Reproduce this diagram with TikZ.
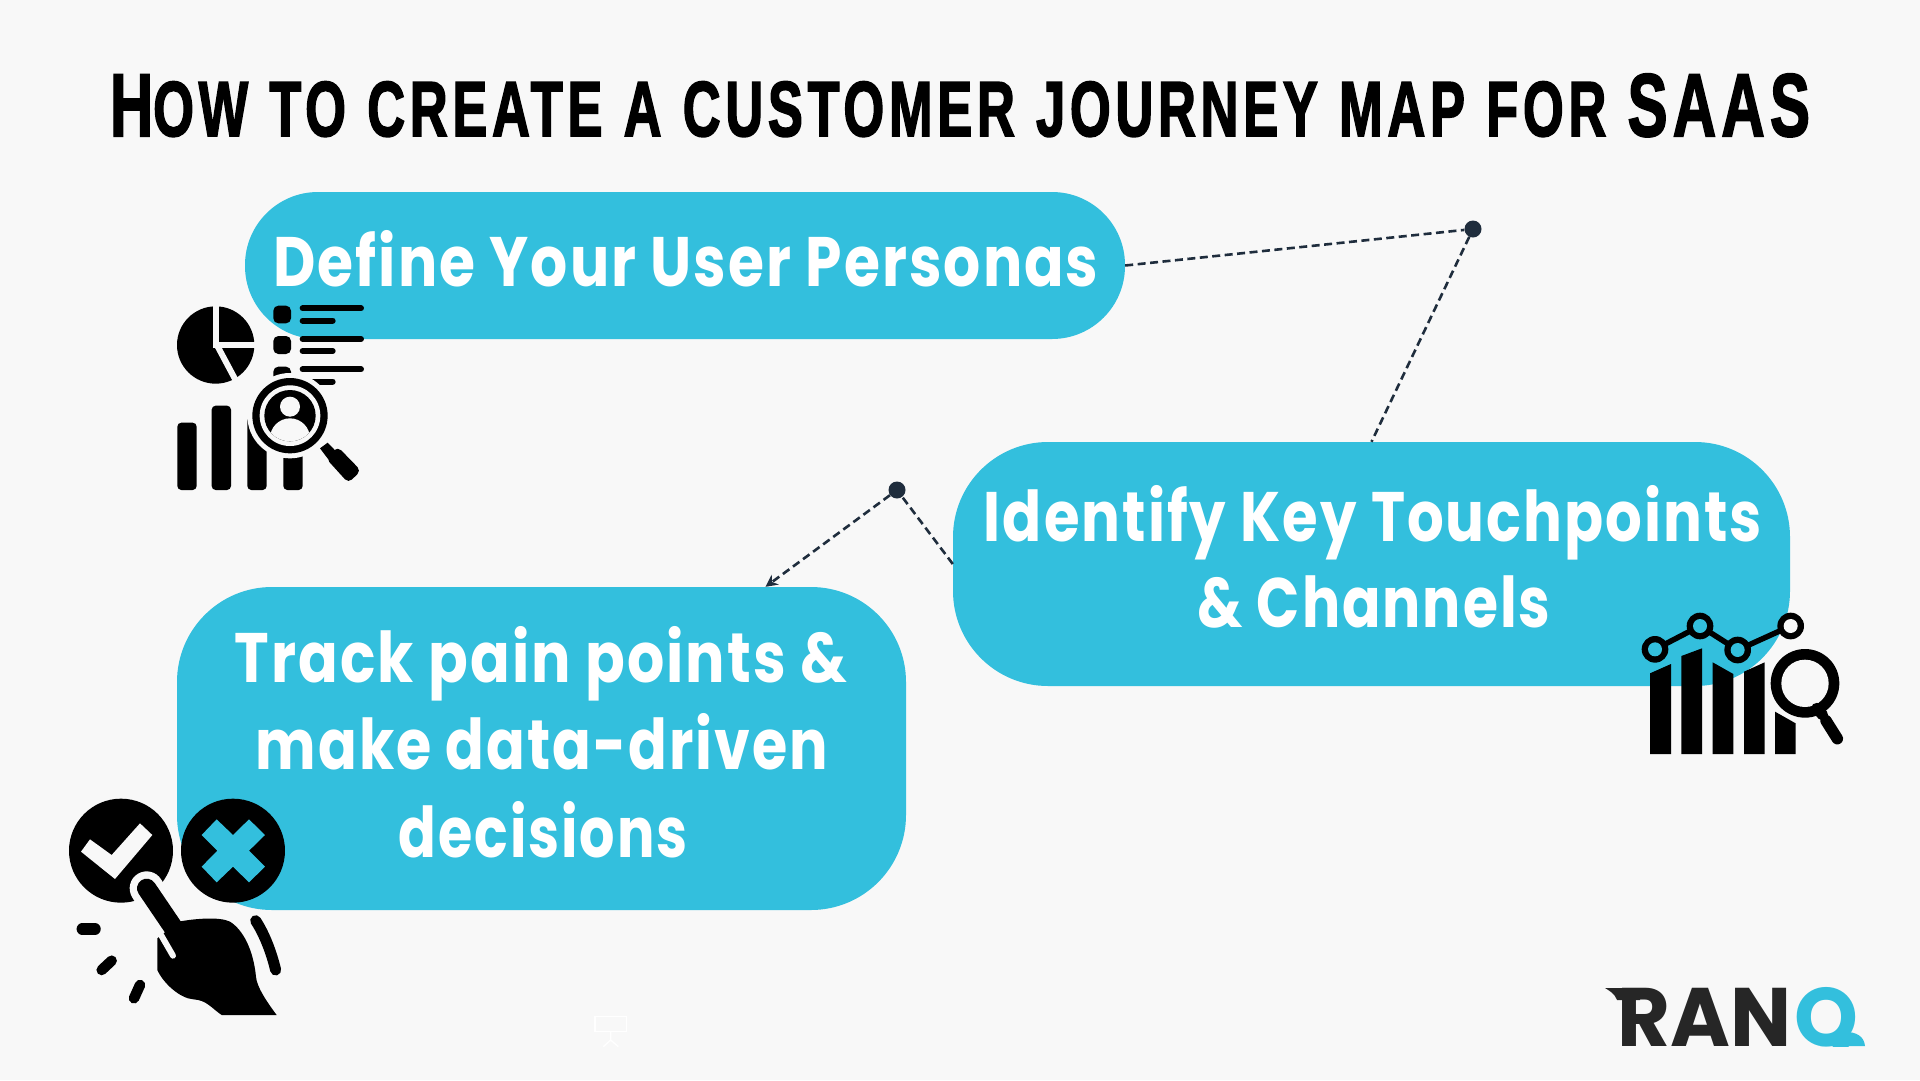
\documentclass[tikz,border=0pt]{standalone}
\usepackage{fontspec}
\usepackage{graphicx}
\setmainfont{Poppins}[LetterSpace=3.5]
\newfontfamily\titlefont[FakeBold=2.4,LetterSpace=9,WordSpace=1.1]{Liberation Sans}
\newfontfamily\logofont{Poppins}
\usetikzlibrary{arrows.meta,calc}
\definecolor{pagebg}{HTML}{F8F8F8}
\definecolor{boxblue}{HTML}{33BFDD}
\definecolor{linkdark}{HTML}{1F2D3D}
\definecolor{logodark}{HTML}{262626}
\newcommand{\fitw}[2]{\resizebox{#1pt}{\height}{#2}}
\tikzset{
  stepbox/.style={fill=boxblue,draw=none,inner sep=0pt},
  lbl/.style={anchor=base,text=white,inner sep=0pt,font=\fontsize{70}{70}\selectfont\bfseries},
  hub/.style={circle,fill=linkdark,draw=none,minimum size=17pt,inner sep=0pt},
  link/.style={draw=linkdark,line width=2.6pt,dash pattern=on 8pt off 4.5pt},
  icon/.style={x=0.33333pt,y=-0.33333pt},
}
\begin{document}
\begin{tikzpicture}[x=1pt,y=-1pt]
\useasboundingbox (0,0) rectangle (1920,1080);
\fill[pagebg] (0,0) rectangle (1920,1080);

% title
\node[anchor=base,inner sep=0pt,text=black] (title) at (960,136)
  {\titlefont\fitw{1700}{\fontsize{89}{89}\selectfont\bfseries H\fontsize{78}{78}\selectfont OW TO CREATE A CUSTOMER JOURNEY MAP FOR \fontsize{89}{89}\selectfont SAAS}};

% boxes
\node[stepbox,rounded corners=73pt,minimum width=880pt,minimum height=147pt] (box1) at (685,265.5) {};
\node[stepbox,rounded corners=95pt,minimum width=837pt,minimum height=244pt] (box2) at (1371.5,564) {};
\node[stepbox,rounded corners=95pt,minimum width=729pt,minimum height=323pt] (box3) at (541.5,748.5) {};

% labels
\node[lbl] (l1) at (686,286) {\fitw{825}{Define Your User Personas}};
\node[lbl] (l2a) at (1373,541) {\fitw{778}{Identify Key Touchpoints}};
\node[lbl] (l2b) at (1374,627) {\fitw{353}{\& Channels}};
\node[lbl] (l3a) at (541,682) {\fitw{612}{Track pain points \&}};
\node[lbl] (l3b) at (542,769) {\fitw{572}{make data-driven}};
\node[lbl] (l3c) at (543,857) {\fitw{289}{decisions}};

% connectors
\node[hub] (hub1) at (1473,229) {};
\node[hub] (hub2) at (897,490) {};
\coordinate (tip3) at ($(box3.north)+(224,0)$);
\draw[link] (box1.east) -- (hub1);
\draw[link] (hub1) -- (box2.north);
\draw[link] (box2.west) -- (hub2);
\draw[link,-{Stealth[length=12pt,width=12pt,fill=linkdark]}] (hub2) -- (tip3);

% icon 1: data / persona
\begin{scope}[shift={(160,290)},icon]
  \fill (167,165) circle (116);
  \draw[pagebg,line width=6pt] (168,40) -- (168,165) -- (295,165);
  \draw[pagebg,line width=6pt] (168,160) -- (232,280);
  \fill[rounded corners=5pt] (340,47) rectangle (393,100);
  \fill[rounded corners=5pt] (340,138) rectangle (393,192);
  \fill[rounded corners=5pt] (340,230) rectangle (393,290);
  \foreach \yy/\xx in {55/603,92/518,147/603,183/518,238/603,275/518}
    \draw[line width=6pt,line cap=round] (428,\yy) -- (\xx,\yy);
  \fill[rounded corners=4pt] (52,398) rectangle (110,600);
  \fill[rounded corners=4pt] (155,347) rectangle (213,600);
  \fill[rounded corners=4pt] (262,380) rectangle (320,600);
  \fill[rounded corners=4pt] (370,440) rectangle (428,600);
  \fill[pagebg] (390,377) circle (128);
  \fill (390,377) circle (113);
  \fill[pagebg] (390,377) circle (91);
  \fill (390,377) circle (77);
  \begin{scope}
    \clip (390,377) circle (77);
    \fill[pagebg] (390,445) ellipse (60 and 60);
  \end{scope}
  \fill[pagebg] (390,350) circle (30);
  \fill (480,475) -- (503,458) -- (530,486) -- (505,508) -- cycle;
  \fill[rounded corners=5pt] (498,505) -- (533,470) -- (603,542) -- (565,579) -- cycle;
\end{scope}

% icon 2: chart + magnifier
\begin{scope}[shift={(1620,600)},icon]
  \fill (90,462) -- (90,220) -- (153,192) -- (153,462) -- cycle;
  \fill (184,462) -- (184,168) -- (246,145) -- (246,462) -- cycle;
  \fill (278,462) -- (278,187) -- (340,222) -- (340,462) -- cycle;
  \fill (372,462) -- (372,215) -- (434,187) -- (434,462) -- cycle;
  \fill (465,462) -- (465,335) -- (527,370) -- (527,462) -- cycle;
  \draw[line width=5.5pt] (105,148) -- (240,78) -- (353,150) -- (512,78);
  \foreach \cx/\cy/\cc in {105/148/boxblue,240/78/boxblue,353/150/boxblue,512/78/pagebg}{
    \fill (\cx,\cy) circle (40);
    \fill[\cc] (\cx,\cy) circle (21);
  }
  \fill[pagebg] (555,250) circle (116);
  \fill (555,250) circle (103);
  \fill[pagebg] (555,250) circle (71);
  \draw[line width=11pt,line cap=round] (590,325) -- (608,345);
  \draw[line width=11.5pt,line cap=round] (618,362) -- (652,416);
\end{scope}

% icon 3: check / cross / hand
\begin{scope}[shift={(50,780)},icon]
  \fill (213,212) circle (156);
  \fill (549,212) circle (156);
  \fill[pagebg] (93,215) -- (120,178) -- (185,225) -- (270,130) -- (307,165) -- (195,297) -- cycle;
  \fill[boxblue] (500,118) -- (549,165) -- (597,118) -- (645,165) -- (597,212) -- (645,260) -- (597,307) -- (549,260) -- (500,307) -- (455,260) -- (502,212) -- (455,165) -- cycle;
  \draw[pagebg,line width=34pt,line cap=round] (290,325) -- (350,425);
  \fill (385,425) .. controls (440,415) and (510,410) .. (540,425)
        .. controls (580,450) and (610,510) .. (618,590)
        .. controls (620,620) and (650,665) .. (680,705)
        -- (515,705) .. controls (485,685) and (470,660) .. (430,658)
        .. controls (390,655) and (340,610) .. (322,570) -- (322,475) -- cycle;
  \draw[pagebg,line width=6pt,line cap=round] (310,425) -- (369,527);
  \draw[line width=19.3pt,line cap=round] (290,325) -- (385,465);
  \draw[line width=11.5pt,line cap=round] (97,447) -- (135,447);
  \draw[line width=10.5pt,line cap=round] (155,570) -- (185,542);
  \draw[line width=10.5pt,line cap=round] (252,655) -- (270,615);
  \draw[line width=11pt,line cap=round] (617,422) .. controls (645,465) and (665,520) .. (677,570);
\end{scope}

% logo
\node[anchor=base west,inner sep=0pt,text=logodark,font=\logofont\fontsize{83}{83}\selectfont\bfseries] (logo) at (1617,1046) {\fitw{174}{RAN}};
\begin{scope}
  \clip (1780,970) rectangle (1880,1046);
  \node[anchor=base west,inner sep=0pt,text=boxblue,font=\logofont\fontsize{83}{83}\selectfont\bfseries] (logoq) at (1794,1046) {\fitw{64}{Q}};
\end{scope}
\fill[boxblue] (1820,1046) -- (1865,1046) .. controls (1864,1036) and (1856,1032) .. (1846,1032) -- (1826,1036) -- cycle;
\fill[logodark] (1605,988) -- (1640,988) -- (1640,1000) -- (1617,1000) .. controls (1615,994) and (1610,991) .. (1605,988) -- cycle;

% faint presenter mark
\begin{scope}[shift={(570,1000)},icon,draw=white]
  \draw[white,line width=1.3pt] (75,50) rectangle (170,95);
  \draw[white,line width=1.3pt] (122,95) -- (122,120) (100,140) -- (122,120) -- (145,140);
\end{scope}
\end{tikzpicture}
\end{document}
